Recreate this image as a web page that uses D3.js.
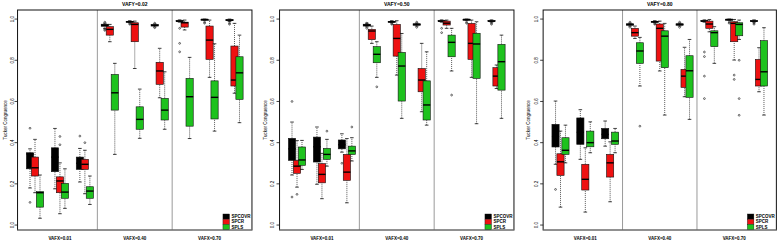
<!doctype html>
<html lang="en">
<head>
    <meta charset="UTF-8">
    <title>Tucker congruence boxplots</title>
    <script src="https://d3js.org/d3.v7.min.js"></script>
    <style>
      body { margin: 0; background: #fff; }
      text { font-family: "Liberation Sans", Arial, sans-serif; }
    </style>
</head>
<body>
    <div id="chart"></div>

    <script>

      // Labels
      const methods = ['SPCOVR', 'SPCR', 'SPLS'];
      const methodColors = ['#000000', '#ee1111', '#1ec21e'];
      const panelTitles = ['VAFY=0.02', 'VAFY=0.50', 'VAFY=0.80'];
      const groupLabels = ['VAFX=0.01', 'VAFX=0.40', 'VAFX=0.70'];
      const yTicks = [0, 0.2, 0.4, 0.6, 0.8, 1.0];

      // Box stats [low whisker, q1, median, q3, high whisker], 9 settings x 3 methods
      const statsVafy002 = [
        [0.18, 0.273, 0.345, 0.351, 0.37], [0.157, 0.238, 0.278, 0.33, 0.416], [0.033, 0.087, 0.157, 0.162, 0.243],
        [0.176, 0.259, 0.33, 0.375, 0.469], [0.055, 0.157, 0.214, 0.234, 0.302], [0.081, 0.13, 0.16, 0.202, 0.273],
        [0.209, 0.27, 0.30, 0.33, 0.372], [0.152, 0.27, 0.295, 0.319, 0.363], [0.10, 0.13, 0.165, 0.186, 0.238],
        [0.955, 0.965, 0.97, 0.975, 0.98], [0.89, 0.922, 0.95, 0.963, 0.974], [0.343, 0.558, 0.642, 0.731, 0.785],
        [0.983, 0.985, 0.987, 0.989, 0.992], [0.76, 0.89, 0.974, 0.982, 0.99], [0.421, 0.465, 0.513, 0.574, 0.66],
        [0.962, 0.966, 0.97, 0.973, 0.976], [0.618, 0.683, 0.748, 0.79, 0.858], [0.465, 0.51, 0.558, 0.615, 0.744],
        [0.985, 0.988, 0.99, 0.993, 0.996], [0.947, 0.961, 0.982, 0.985, 0.995], [0.42, 0.48, 0.623, 0.712, 0.814],
        [0.994, 0.996, 0.998, 0.999, 1.0], [0.717, 0.804, 0.898, 0.966, 0.995], [0.456, 0.515, 0.62, 0.70, 0.88],
        [0.988, 0.992, 0.995, 0.997, 1.0], [0.64, 0.675, 0.704, 0.869, 0.979], [0.497, 0.61, 0.739, 0.817, 0.922]
      ];
      const outVafy002 = [
        [0.47, 0.11], [], [],
        [], [0.43, 0.39], [],
        [0.432], [0.40], [],
        [0.985, 0.95, 0.945], [], [],
        [0.978, 0.975], [], [],
        [0.98, 0.958], [], [],
        [0.955, 0.882, 0.841], [], [],
        [0.985, 0.98], [], [],
        [0.98, 0.975], [], []
      ];

      const statsVafy050 = [
        [0.243, 0.314, 0.37, 0.421, 0.50], [0.184, 0.251, 0.286, 0.314, 0.41], [0.27, 0.29, 0.316, 0.379, 0.411],
        [0.198, 0.306, 0.38, 0.427, 0.476], [0.128, 0.205, 0.246, 0.298, 0.348], [0.286, 0.319, 0.343, 0.372, 0.416],
        [0.354, 0.37, 0.39, 0.413, 0.443], [0.108, 0.217, 0.257, 0.343, 0.42], [0.311, 0.343, 0.36, 0.383, 0.424],
        [0.962, 0.966, 0.971, 0.975, 0.98], [0.882, 0.90, 0.942, 0.95, 0.966], [0.717, 0.788, 0.829, 0.866, 0.89],
        [0.983, 0.985, 0.987, 0.989, 0.992], [0.728, 0.82, 0.906, 0.974, 0.992], [0.518, 0.602, 0.772, 0.838, 0.93],
        [0.966, 0.97, 0.974, 0.977, 0.98], [0.55, 0.647, 0.704, 0.76, 0.882], [0.485, 0.51, 0.583, 0.70, 0.841],
        [0.985, 0.988, 0.99, 0.993, 0.996], [0.955, 0.971, 0.98, 0.99, 0.995], [0.748, 0.817, 0.887, 0.922, 0.955],
        [0.994, 0.996, 0.998, 0.999, 1.0], [0.717, 0.804, 0.882, 0.979, 0.995], [0.492, 0.712, 0.879, 0.931, 0.987],
        [0.985, 0.988, 0.99, 0.993, 0.996], [0.663, 0.675, 0.723, 0.764, 0.777], [0.518, 0.655, 0.793, 0.877, 0.922]
      ];
      const outVafy050 = [
        [0.60, 0.136], [0.149], [],
        [], [], [0.456],
        [0.30], [], [0.476],
        [0.98, 0.955], [], [0.671],
        [0.978, 0.975], [], [],
        [0.985, 0.96], [], [],
        [0.955, 0.934], [], [0.631],
        [0.985, 0.98], [], [],
        [0.98, 0.975], [], []
      ];

      const statsVafy080 = [
        [0.295, 0.379, 0.43, 0.489, 0.602], [0.087, 0.241, 0.307, 0.346, 0.456], [0.302, 0.343, 0.363, 0.424, 0.485],
        [0.319, 0.392, 0.45, 0.52, 0.56], [0.063, 0.17, 0.222, 0.295, 0.375], [0.351, 0.38, 0.40, 0.456, 0.501],
        [0.383, 0.419, 0.44, 0.469, 0.505], [0.113, 0.233, 0.302, 0.343, 0.404], [0.351, 0.392, 0.408, 0.451, 0.469],
        [0.966, 0.97, 0.974, 0.977, 0.98], [0.906, 0.917, 0.934, 0.955, 0.966], [0.675, 0.785, 0.845, 0.885, 0.911],
        [0.983, 0.985, 0.987, 0.989, 0.992], [0.748, 0.796, 0.955, 0.976, 0.99], [0.534, 0.764, 0.917, 0.943, 0.979],
        [0.966, 0.97, 0.974, 0.977, 0.98], [0.623, 0.668, 0.723, 0.756, 0.863], [0.513, 0.62, 0.749, 0.822, 0.901],
        [0.985, 0.988, 0.99, 0.993, 0.996], [0.938, 0.955, 0.976, 0.99, 0.998], [0.785, 0.866, 0.934, 0.943, 0.963],
        [0.994, 0.996, 0.998, 0.999, 1.0], [0.801, 0.89, 0.979, 0.987, 0.998], [0.901, 0.919, 0.974, 0.982, 0.995],
        [0.985, 0.988, 0.99, 0.993, 0.996], [0.647, 0.675, 0.707, 0.804, 0.861], [0.534, 0.675, 0.744, 0.895, 0.958]
      ];
      const outVafy080 = [
        [0.173], [], [],
        [], [], [],
        [], [], [],
        [0.985, 0.96], [], [0.48],
        [0.978, 0.975], [], [],
        [0.985, 0.96], [], [],
        [0.84, 0.818, 0.723, 0.614], [], [],
        [0.985, 0.98], [0.728, 0.707], [0.80, 0.614, 0.533],
        [0.98, 0.975], [], []
      ];

      // Panel placement: centre of first and last setting in each panel
      const panels = [
        { title: panelTitles[0], stats: statsVafy002, outs: outVafy002, c1: 35, c9: 234.5, tickX: 12, labX: 5 },
        { title: panelTitles[1], stats: statsVafy050, outs: outVafy050, c1: 297, c9: 496.5, tickX: 272, labX: 265 },
        { title: panelTitles[2], stats: statsVafy080, outs: outVafy080, c1: 560.5, c9: 759, tickX: 536, labX: 528 }
      ];

      const W = 779, H = 242;
      const plotTop = 10, plotBottom = 230;

      const y = d3.scaleLinear()
          .domain([-0.024, 1.044])
          .range([plotBottom, plotTop]);

      const svg = d3.select('#chart')
          .append('svg')
          .attr('width', W)
          .attr('height', H);

      panels.forEach(p => {
        const x = d3.scaleLinear().domain([1, 9]).range([p.c1, p.c9]);
        const unit = x(2) - x(1);
        const left = x(1) - 0.7 * unit, right = x(9) + 0.7 * unit;
        const g = svg.append('g');

        // separators between VAFX groups
        [3.5, 6.5].forEach(s => {
          g.append('line')
              .attr('x1', x(s)).attr('x2', x(s))
              .attr('y1', plotTop).attr('y2', plotBottom)
              .attr('stroke', '#9a9a9a').attr('stroke-width', 1);
        });

        // frame
        g.append('rect')
            .attr('x', left).attr('y', plotTop)
            .attr('width', right - left).attr('height', plotBottom - plotTop)
            .attr('fill', 'none').attr('stroke', '#111').attr('stroke-width', 1);
        g.append('line')
            .attr('x1', left).attr('x2', right)
            .attr('y1', plotBottom).attr('y2', plotBottom)
            .attr('stroke', '#9a9a9a').attr('stroke-width', 1.2);

        // y axis ticks
        yTicks.forEach(t => {
          g.append('line')
              .attr('x1', left - 3).attr('x2', left)
              .attr('y1', y(t)).attr('y2', y(t))
              .attr('stroke', '#111').attr('stroke-width', 0.8);
          g.append('text')
              .attr('transform', `translate(${p.tickX},${y(t)}) rotate(-90)`)
              .attr('text-anchor', 'middle')
              .attr('dy', '0.35em')
              .attr('font-size', 4.5)
              .text(t.toFixed(1));
        });

        g.append('text')
            .attr('transform', `translate(${p.labX},${(plotTop + plotBottom) / 2}) rotate(-90)`)
            .attr('text-anchor', 'middle')
            .attr('dy', '0.35em')
            .attr('font-size', 4.5)
            .text('Tucker Congruence');

        // title
        g.append('text')
            .attr('x', (left + right) / 2).attr('y', 6)
            .attr('text-anchor', 'middle')
            .attr('font-size', 5).attr('font-weight', 'bold')
            .text(p.title);

        // group labels
        groupLabels.forEach((lab, i) => {
          g.append('text')
              .attr('x', x(2 + 3 * i)).attr('y', 239.5)
              .attr('text-anchor', 'middle')
              .attr('font-size', 4.5).attr('font-weight', 'bold')
              .text(lab);
        });

        // boxes
        const bw = 0.29 * unit;
        p.stats.forEach((s, k) => {
          const setting = Math.floor(k / 3) + 1;
          const m = k % 3;
          const cx = x(setting + (m - 1) * 0.2);
          const [lo, q1, med, q3, hi] = s;

          // whiskers
          [[lo, q1], [q3, hi]].forEach(([a, b]) => {
            g.append('line')
                .attr('x1', cx).attr('x2', cx)
                .attr('y1', y(a)).attr('y2', y(b))
                .attr('stroke', '#111').attr('stroke-width', 0.7)
                .attr('stroke-dasharray', '1,1');
          });
          [lo, hi].forEach(v => {
            g.append('line')
                .attr('x1', cx - bw / 4).attr('x2', cx + bw / 4)
                .attr('y1', y(v)).attr('y2', y(v))
                .attr('stroke', '#111').attr('stroke-width', 0.8);
          });

          g.append('rect')
              .attr('x', cx - bw / 2).attr('y', y(q3))
              .attr('width', bw).attr('height', Math.max(y(q1) - y(q3), 1))
              .attr('fill', methodColors[m])
              .attr('stroke', '#111').attr('stroke-width', 0.6);

          g.append('line')
              .attr('x1', cx - bw / 2).attr('x2', cx + bw / 2)
              .attr('y1', y(med)).attr('y2', y(med))
              .attr('stroke', '#000').attr('stroke-width', 1.4);

          p.outs[k].forEach(v => {
            g.append('circle')
                .attr('cx', cx).attr('cy', y(v)).attr('r', 0.9)
                .attr('fill', 'none')
                .attr('stroke', '#111').attr('stroke-width', 0.6);
          });
        });

        // legend, bottom right
        const lx = right - 29, ly = plotBottom - 16;
        methods.forEach((name, i) => {
          g.append('rect')
              .attr('x', lx).attr('y', ly + i * 5.2)
              .attr('width', 6.5).attr('height', 5)
              .attr('fill', methodColors[i])
              .attr('stroke', '#111').attr('stroke-width', 0.4);
          g.append('text')
              .attr('x', lx + 8.5).attr('y', ly + i * 5.2 + 2.6)
              .attr('dy', '0.35em')
              .attr('font-size', 4.5).attr('font-weight', 'bold')
              .text(name);
        });
      });

    </script>

</body>
</html>
